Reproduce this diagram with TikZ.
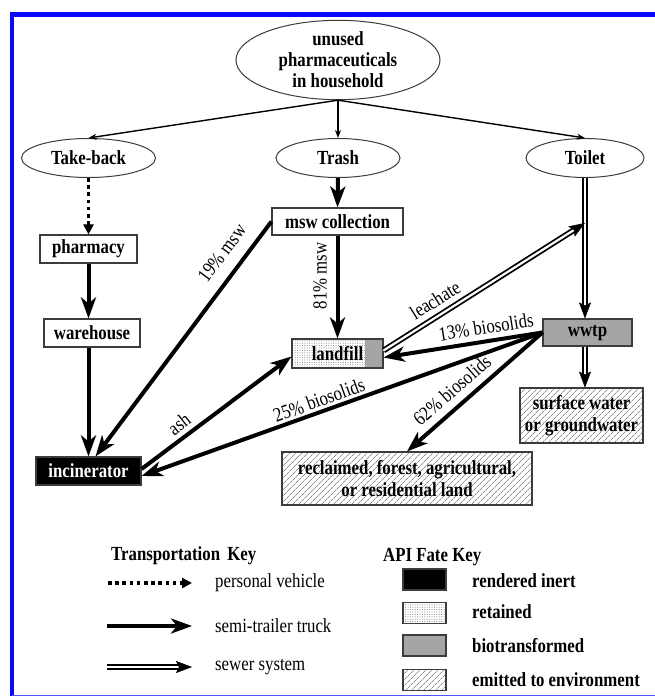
\documentclass[tikz,border=0pt]{standalone}
\usepackage{fontspec}
\setmainfont{Liberation Serif}[FakeStretch=0.84]
\usetikzlibrary{arrows.meta,shapes.geometric,patterns.meta,calc}
\definecolor{frameblue}{RGB}{10,10,250}
\definecolor{biogray}{RGB}{165,165,165}
\definecolor{edge}{RGB}{60,60,60}
\begin{document}
\begin{tikzpicture}[x=1pt,y=-1pt,
  txt/.style={font=\fontsize{20}{22}\selectfont, inner sep=0pt},
  btxt/.style={font=\fontsize{20}{22}\selectfont\bfseries, inner sep=0pt},
  ell/.style={ellipse, draw=edge, line width=1pt, inner sep=0pt, align=center, font=\fontsize{20}{21}\selectfont\bfseries},
  box/.style={rectangle, draw=edge, line width=1.1pt, inner sep=0pt, align=center, font=\fontsize{20}{22}\selectfont\bfseries},
  hatch/.style={pattern={Lines[angle=45,distance=4pt,line width=0.8pt]}, pattern color=black!45},
  dotfill/.style={pattern={Dots[distance=2.4pt,radius=0.5pt]}, pattern color=black!55},
  thinarrow/.style={-{Stealth[length=8pt,width=6pt]}, line width=1.4pt},
  truck/.style={-{Stealth[length=21pt,width=15pt,inset=6pt]}, line width=4pt},
  sewerline/.style={double, line width=1.8pt, double distance=2.2pt, shorten >=9pt},
  sewertip/.style={draw=white, line width=0.4pt, -{Stealth[length=16pt,width=12pt,inset=3pt,color=black,fill=black]}},
  car/.style={-{Triangle[length=10pt,width=10pt]}, line width=3.5pt, dash pattern=on 3.5pt off 3.7pt}
]
\useasboundingbox (0,0) rectangle (655,696);
% frame
\draw[frameblue, line width=5pt] (10,14.5) -- (660,14.5);
\draw[frameblue, line width=4pt] (12,12) -- (12,700);
\draw[frameblue!70, line width=1.5pt] (12,695.5) -- (660,695.5);

% nodes
\node[ell, minimum width=204pt, minimum height=76pt] (top) at (338,60) {unused\\pharmaceuticals\\in household};
\node[ell, minimum width=134pt, minimum height=39pt] (takeback) at (88.5,158) {Take-back};
\node[ell, minimum width=124pt, minimum height=39pt] (trash) at (338,158) {Trash};
\node[ell, minimum width=118pt, minimum height=39pt] (toilet) at (585,158) {Toilet};

\node[box, fill=white, minimum width=97pt, minimum height=28pt] (pharmacy) at (88.5,249) {pharmacy};
\node[box, fill=white, minimum width=96pt, minimum height=28pt] (warehouse) at (92,333) {warehouse};
\node[box, fill=black, text=white, minimum width=105pt, minimum height=28pt] (incinerator) at (88.5,471) {incinerator};
\node[box, fill=white, minimum width=131pt, minimum height=27pt] (msw) at (337.5,221.5) {msw collection};
\node[box, dotfill, minimum width=91pt, minimum height=29pt,
  path picture={\fill[biogray] ([xshift=-18pt]path picture bounding box.north east) rectangle (path picture bounding box.south east);}]
  (landfill) at (337.5,353.5) {landfill};
\node[box, fill=biogray, minimum width=89pt, minimum height=27pt] (wwtp) at (587.5,332.5) {wwtp};
\node[box, hatch, minimum width=123pt, minimum height=55pt] (surface) at (581.5,415.5) {surface water\\or groundwater};
\node[box, hatch, minimum width=250pt, minimum height=53pt] (reclaimed) at (407,478.5) {reclaimed, forest, agricultural,\\or residential land};

\coordinate (leachend) at (585,223);

% connectors
\draw[thinarrow] (top.south) -- (takeback.north);
\draw[thinarrow] (top.south) -- (trash.north);
\draw[thinarrow] (top.south) -- (toilet.north);

\draw[car] (takeback.south) -- (pharmacy.north);
\draw[truck] (pharmacy.south) -- (pharmacy.south |- warehouse.north);
\draw[truck] (pharmacy.south |- warehouse.south) -- (incinerator.north);
\draw[truck] (trash.south) -- (msw.north);
\draw[truck] (msw.south) -- (landfill.north);
\draw[truck] (msw.west) -- ($(incinerator.north)+(7,0)$);
\draw[truck] ($(incinerator.east)+(0,-2)$) -- ($(landfill.west)+(0,3)$);
\draw[truck] (wwtp.west) -- ($(incinerator.east)+(0,5)$);
\draw[truck] (wwtp.west) -- ($(landfill.east)+(0,4)$);
\draw[truck] (wwtp.west) -- (reclaimed.north);

\draw[sewerline] (toilet.south) -- (toilet.south |- wwtp.north);
\draw[sewertip] (toilet.south) -- (toilet.south |- wwtp.north);
\draw[sewerline] (wwtp.south -| toilet.south) -- (toilet.south |- surface.north);
\draw[sewertip] (wwtp.south -| toilet.south) -- (toilet.south |- surface.north);
\draw[sewerline] ($(landfill.east)+(0,-3)$) -- (leachend);
\draw[sewertip] ($(landfill.east)+(0,-3)$) -- (leachend);

% labels
\node[txt, rotate=53] (l19) at (222,253) {19\% msw};
\node[txt, rotate=90] (l81) at (320,276) {81\% msw};
\node[txt, rotate=38] (lash) at (179,424) {ash};
\node[txt, rotate=20] (l25) at (319,400) {25\% biosolids};
\node[txt, rotate=9] (l13) at (486,327) {13\% biosolids};
\node[txt, rotate=41] (l62) at (452,390) {62\% biosolids};
\node[txt, rotate=32] (lleach) at (435,300) {leachate};

% transportation key
\node[btxt, anchor=west] (tkey) at (111,556) {Transportation\hspace{3pt} Key};
\coordinate (k1a) at (108,583); \coordinate (k1b) at (192,583);
\coordinate (k2a) at (107,626); \coordinate (k2b) at (192,626);
\coordinate (k3a) at (107,667); \coordinate (k3b) at (192,667);
\draw[car] (k1a) -- (k1b);
\draw[truck] (k2a) -- (k2b);
\draw[sewerline] (k3a) -- (k3b);
\draw[sewertip] (k3a) -- (k3b);
\node[txt, anchor=west] (t1) at (215,583) {personal vehicle};
\node[txt, anchor=west] (t2) at (215,626) {semi-trailer truck};
\node[txt, anchor=west] (t3) at (215,667) {sewer system};

% fate key
\node[btxt, anchor=west] (fkey) at (383,557) {API Fate Key};
\node[box, fill=black, minimum width=43pt, minimum height=21pt] (f1) at (424.5,579.5) {};
\node[box, dotfill, minimum width=43pt, minimum height=21pt] (f2) at (424.5,613) {};
\node[box, fill=biogray, minimum width=43pt, minimum height=21pt] (f3) at (424.5,645.5) {};
\node[box, hatch, minimum width=43pt, minimum height=21pt] (f4) at (424.5,680) {};
\node[btxt, anchor=west] (ft1) at (472,581) {rendered inert};
\node[btxt, anchor=west] (ft2) at (472,612) {retained};
\node[btxt, anchor=west] (ft3) at (472,646) {biotransformed};
\node[btxt, anchor=west] (ft4) at (472,680) {emitted to environment};
\end{tikzpicture}
\end{document}
